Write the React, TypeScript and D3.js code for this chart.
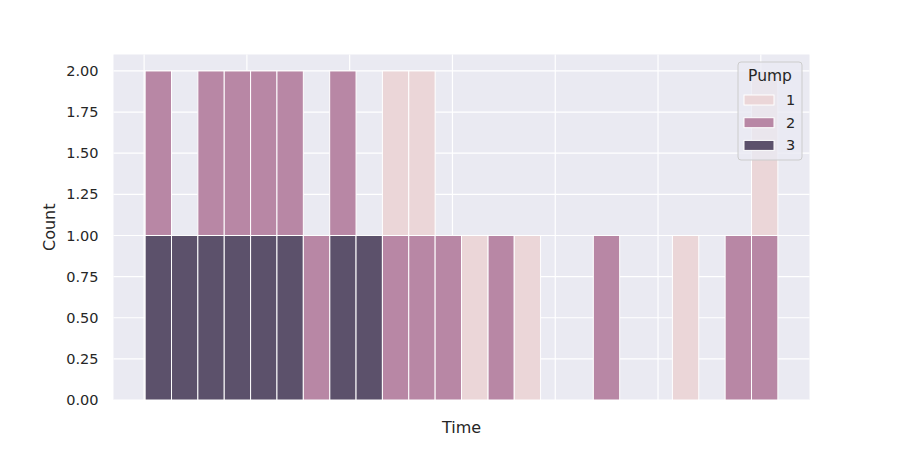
import * as d3 from 'd3';

// pump levels and their colours (seaborn cubehelix, alpha already blended)
const pumps = ['1', '2', '3'];
const pumpColors = ['#ebd6d8', '#b887a5', '#5c516b'];

// counts per time bin (24 bins), one array per pump
const pump1Counts = [0, 0, 0, 0, 0, 0, 0, 0, 0, 1, 1, 0, 1, 0, 1, 0, 0, 0, 0, 0, 1, 0, 0, 1];
const pump2Counts = [1, 0, 1, 1, 1, 1, 1, 1, 0, 1, 1, 1, 0, 1, 0, 0, 0, 1, 0, 0, 0, 0, 1, 1];
const pump3Counts = [1, 1, 1, 1, 1, 1, 0, 1, 1, 0, 0, 0, 0, 0, 0, 0, 0, 0, 0, 0, 0, 0, 0, 0];

// time axis (hours); ticks are unlabeled in the original
const timeStart = 0.01;
const binHours = 0.2565;
const timeTicks = [0, 1, 2, 3, 4, 5, 6];
const yTicks = [0, 0.25, 0.5, 0.75, 1, 1.25, 1.5, 1.75, 2];

export default function App() {
  const width = 900;
  const height = 450;
  const margin = { top: 54.5, right: 90.5, bottom: 50, left: 113.5 };
  const font = '"DejaVu Sans", sans-serif';

  const counts = [pump1Counts, pump2Counts, pump3Counts];
  const nBins = pump1Counts.length;
  const timeEnd = timeStart + nBins * binHours;
  const pad = (timeEnd - timeStart) * 0.05;

  const x = d3
    .scaleLinear()
    .domain([timeStart - pad, timeEnd + pad])
    .range([margin.left, width - margin.right]);

  const y = d3
    .scaleLinear()
    .domain([0, 2.1])
    .range([height - margin.bottom, margin.top]);

  // stack with pump 3 at the bottom, pump 1 on top
  const rows = d3.range(nBins).map((i) => {
    const r: Record<string, number> = { bin: i };
    pumps.forEach((p, k) => (r[p] = counts[k][i]));
    return r;
  });
  const stacked = d3.stack<Record<string, number>>().keys([...pumps].reverse())(rows);

  const fmt = d3.format('.2f');

  return (
    <div style={{ position: 'absolute', left: 0, top: 0 }}>
      <svg width={width} height={height} viewBox={`0 0 ${width} ${height}`} style={{ display: 'block' }}>
        <rect width={width} height={height} fill="#ffffff" />
        <rect
          x={margin.left}
          y={margin.top}
          width={width - margin.left - margin.right}
          height={height - margin.top - margin.bottom}
          fill="#eaeaf2"
        />
        {yTicks.map((t) => (
          <line key={'gy' + t} x1={margin.left} x2={width - margin.right} y1={y(t)} y2={y(t)} stroke="#fff" strokeWidth={1.2} />
        ))}
        {timeTicks.map((t) => (
          <line key={'gx' + t} x1={x(t)} x2={x(t)} y1={margin.top} y2={height - margin.bottom} stroke="#fff" strokeWidth={1.2} />
        ))}

        {stacked.map((layer) => {
          const k = pumps.indexOf(layer.key);
          return (
            <g key={layer.key}>
              {layer.map((d, i) =>
                d[1] - d[0] > 0 ? (
                  <rect
                    key={i}
                    x={x(timeStart + i * binHours)}
                    width={x(timeStart + (i + 1) * binHours) - x(timeStart + i * binHours)}
                    y={y(d[1])}
                    height={y(d[0]) - y(d[1])}
                    fill={pumpColors[k]}
                    stroke="#fff"
                    strokeWidth={1}
                  />
                ) : null
              )}
            </g>
          );
        })}

        {yTicks.map((t) => (
          <text
            key={'ly' + t}
            x={margin.left - 15}
            y={y(t)}
            dy="0.35em"
            textAnchor="end"
            fontFamily={font}
            fontSize={14.5}
            fill="#262626"
          >
            {fmt(t)}
          </text>
        ))}

        <text
          transform={`translate(55,${(margin.top + height - margin.bottom) / 2}) rotate(-90)`}
          textAnchor="middle"
          fontFamily={font}
          fontSize={16}
          fill="#262626"
        >
          Count
        </text>
        <text
          x={(margin.left + width - margin.right) / 2}
          y={433}
          textAnchor="middle"
          fontFamily={font}
          fontSize={16}
          fill="#262626"
        >
          Time
        </text>

        <g transform="translate(738,62)">
          <rect width={64} height={98} rx={3} fill="#eaeaf2" fillOpacity={0.8} stroke="#cccccc" strokeWidth={1} />
          <text x={32} y={19} textAnchor="middle" fontFamily={font} fontSize={15.5} fill="#262626">
            Pump
          </text>
          {pumps.map((p, k) => (
            <g key={p} transform={`translate(0,${33 + k * 22.7})`}>
              <rect x={6} y={0} width={30} height={10} fill={pumpColors[k]} stroke="#fff" strokeWidth={1} />
              <text x={48} y={5} dy="0.35em" fontFamily={font} fontSize={14.5} fill="#262626">
                {p}
              </text>
            </g>
          ))}
        </g>
      </svg>
    </div>
  );
}
